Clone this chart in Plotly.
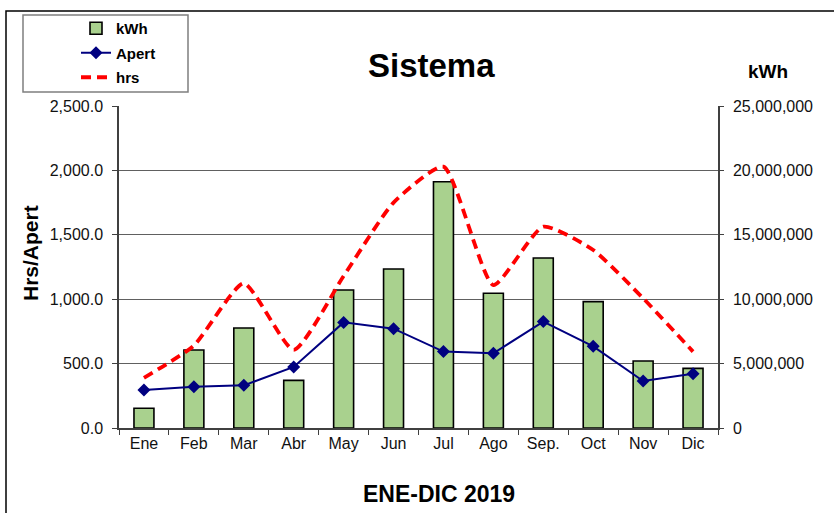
import plotly.graph_objects as go

months = ["Ene", "Feb", "Mar", "Abr", "May", "Jun", "Jul", "Ago", "Sep.", "Oct", "Nov", "Dic"]
kwh = [1530000, 6060000, 7760000, 3700000, 10710000, 12340000, 19120000, 10460000, 13200000, 9810000, 5200000, 4630000]
apert = [295, 321, 331, 474, 820, 771, 593, 580, 826, 634, 365, 422]
hrs = [390, 640, 1123, 606, 1180, 1750, 2029, 1110, 1563, 1382, 1007, 593]

W, H = 834, 513
L, R, T, B = 119, 718, 106, 428
pw, ph = R - L, B - T

def px(x):
    return (x - L) / pw

def py(y):
    return (B - y) / ph

FONT = "Liberation Sans, Arial, sans-serif"

fig = go.Figure()
fig.add_trace(go.Bar(
    x=months, y=kwh, name="kWh", yaxis="y", legendgroup="a",
    marker=dict(color="#A9D18E", line=dict(color="#000000", width=1.6)),
    width=0.4,
))
fig.add_trace(go.Scatter(
    x=months, y=apert, name="Apert", mode="lines+markers", yaxis="y2", legendgroup="b",
    line=dict(color="#000080", width=2),
    marker=dict(symbol="diamond", size=10, color="#000080"),
))
fig.add_trace(go.Scatter(
    x=months, y=hrs, name="hrs", mode="lines", yaxis="y2", legendgroup="c",
    line=dict(color="#FF0000", width=3.8, dash="10px,6px", shape="spline", smoothing=0.55),
))

fig.update_layout(
    width=W, height=H,
    margin=dict(l=L, r=W - R, t=T, b=H - B, autoexpand=False),
    paper_bgcolor="white", plot_bgcolor="white",
    font=dict(family=FONT, color="#111111", size=16),
    showlegend=True,
    legend=dict(
        x=px(76), y=py(12), xanchor="left", yanchor="top",
        borderwidth=0, bgcolor="rgba(0,0,0,0)",
        font=dict(family=FONT, size=15, color="#000000", weight="bold"),
        traceorder="grouped", tracegroupgap=2,
    ),
    xaxis=dict(
        type="category", tickson="boundaries", ticks="outside", ticklen=5,
        tickcolor="#404040", showline=True, linecolor="#404040", linewidth=1.5,
        showgrid=False, tickfont=dict(size=16, color="#111111"),
        range=[-0.5, 11.5],
    ),
    yaxis=dict(
        range=[0, 25000000], dtick=5000000, tickformat=",d",
        side="right", showgrid=True, gridcolor="#606060", gridwidth=1,
        ticks="outside", ticklen=4, tickcolor="#404040",
        showline=True, linecolor="#404040", linewidth=1.5,
        tickfont=dict(size=16, color="#111111"), ticklabelstandoff=6,
        zeroline=False,
    ),
    yaxis2=dict(
        range=[0, 2500], dtick=500, tickformat=",.1f",
        overlaying="y", side="left", showgrid=False,
        ticks="outside", ticklen=5, tickcolor="#404040",
        showline=True, linecolor="#404040", linewidth=1.5,
        tickfont=dict(size=16, color="#111111"), ticklabelstandoff=6,
        zeroline=False,
    ),
    shapes=[
        dict(type="rect", xref="paper", yref="paper",
             x0=px(6), x1=px(W + 20), y0=py(H + 20), y1=py(11),
             line=dict(color="#000000", width=1.5), fillcolor="rgba(0,0,0,0)", layer="below"),
        dict(type="rect", xref="paper", yref="paper",
             x0=px(23), x1=px(188), y0=py(92), y1=py(15),
             line=dict(color="#7F7F7F", width=1.5), fillcolor="white", layer="below"),
    ],
    annotations=[
        dict(text="<b>Sistema</b>", x=px(431), y=py(65), xref="paper", yref="paper",
             showarrow=False, xanchor="center", yanchor="middle",
             font=dict(size=33, color="#000000")),
        dict(text="<b>kWh</b>", x=px(768), y=py(72), xref="paper", yref="paper",
             showarrow=False, xanchor="center", yanchor="middle",
             font=dict(size=19, color="#000000")),
        dict(text="<b>Hrs/Apert</b>", x=px(30), y=py(253), xref="paper", yref="paper",
             showarrow=False, xanchor="center", yanchor="middle", textangle=-90,
             font=dict(size=21, color="#000000")),
        dict(text="<b>ENE-DIC 2019</b>", x=px(439), y=py(494), xref="paper", yref="paper",
             showarrow=False, xanchor="center", yanchor="middle",
             font=dict(size=23, color="#000000")),
    ],
)

fig.write_html("out.html", config={"displayModeBar": False},
               post_script="document.body.style.margin='0';")
